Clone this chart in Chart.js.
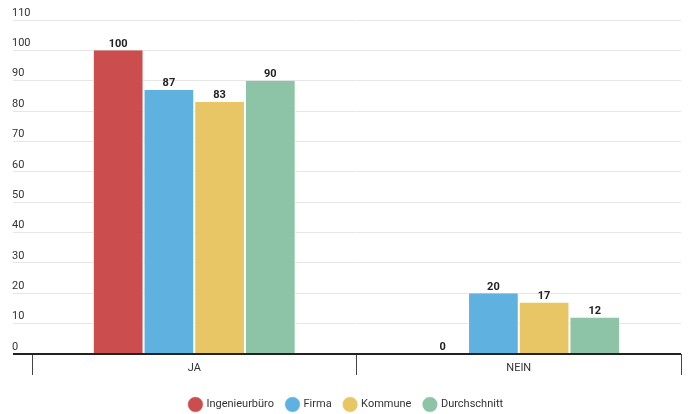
<!DOCTYPE html>
<html>
<head>
<meta charset="utf-8">
<script src="https://cdn.jsdelivr.net/npm/chart.js@4/dist/chart.umd.min.js"></script>
<style>
  html, body { margin: 0; padding: 0; background: #fff; }
  #wrap { width: 689px; height: 414px; position: relative; }
</style>
</head>
<body>
<div id="wrap"><canvas id="myChart"></canvas></div>
<script>
// ====== Antworten JA / NEIN =========
const categories = ["JA", "NEIN"];
const seriesNames = ["Ingenieurbüro", "Firma", "Kommune", "Durchschnitt"];
const ingenieurbuero = [100, 0];
const firma = [87, 20];
const kommune = [83, 17];
const durchschnitt = [90, 12];
const colors = ["#cc4d4d", "#5fb2e0", "#e8c565", "#8dc3a6"];

const allValues = [ingenieurbuero, firma, kommune, durchschnitt];

// labels above the bars
const valueLabels = {
  id: "valueLabels",
  afterDatasetsDraw(chart) {
    const ctx = chart.ctx;
    ctx.save();
    ctx.font = "bold 11px Roboto";
    ctx.fillStyle = "#222";
    ctx.textAlign = "center";
    ctx.textBaseline = "bottom";
    chart.data.datasets.forEach((ds, i) => {
      const meta = chart.getDatasetMeta(i);
      meta.data.forEach((bar, j) => {
        ctx.fillText(ds.data[j], bar.x, bar.y - 1);
      });
    });
    ctx.restore();
  },
};

let ctx = document.getElementById("myChart").getContext("2d");
new Chart(ctx, {
  type: "bar",
  data: {
    labels: categories,
    datasets: seriesNames.map((name, i) => ({
      label: name,
      data: allValues[i],
      backgroundColor: colors[i],
      borderColor: "#fff",
      borderWidth: { left: 1, right: 1, top: 0, bottom: 0 },
      categoryPercentage: 0.625,
      barPercentage: 1,
    })),
  },
  options: {
    responsive: true,
    maintainAspectRatio: false,
    animation: false,
    layout: { padding: { left: 12, right: 8, top: 20, bottom: -6 } },
    scales: {
      x: {
        grid: {
          offset: true,
          drawOnChartArea: false,
          drawTicks: true,
          tickLength: 21,
          color: "#444",
          lineWidth: 1,
        },
        border: { display: false },
        ticks: {
          padding: -13,
          color: "#333",
          font: { family: "Roboto", size: 11 },
        },
        afterFit(scale) {
          scale.height = 32;
        },
      },
      y: {
        min: 0,
        max: 110,
        ticks: {
          stepSize: 10,
          crossAlign: "far",
          labelOffset: -7,
          padding: 0,
          color: "#333",
          font: { family: "Roboto", size: 11 },
        },
        grid: {
          tickLength: 19,
          color: (c) => (c.tick && c.tick.value === 0 ? "#222" : "#e6e6e6"),
          lineWidth: (c) => (c.tick && c.tick.value === 0 ? 2 : 1),
        },
        border: { display: false },
        afterFit(scale) {
          scale.width = 20;
        },
      },
    },
    plugins: {
      legend: {
        position: "bottom",
        labels: {
          usePointStyle: true,
          pointStyle: "circle",
          boxWidth: 14,
          boxHeight: 13,
          padding: 13,
          color: "#333",
          font: { family: "Roboto", size: 11 },
        },
      },
      tooltip: { enabled: false },
    },
  },
  plugins: [valueLabels],
});
</script>
</body>
</html>
